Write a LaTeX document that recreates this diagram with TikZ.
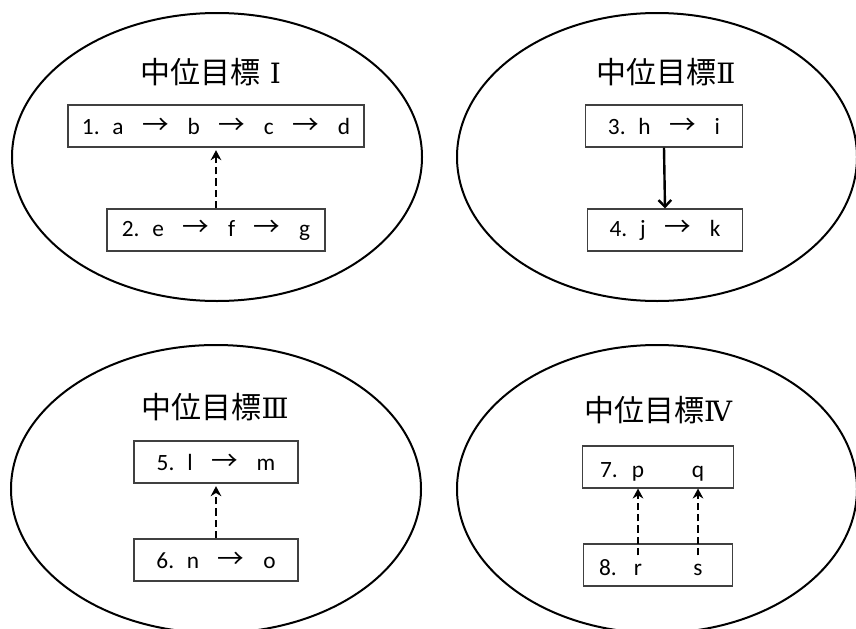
\documentclass[tikz,border=0pt]{standalone}
\usepackage{fontspec}
\setmainfont{Carlito}
\newfontfamily\cjk{Noto Sans CJK JP}
\newfontfamily\numfont{DejaVu Serif}
\usetikzlibrary{arrows.meta,shapes.geometric}

\newcommand{\rarr}{\hspace{0.8em}{\cjk\fontsize{20pt}{20pt}\selectfont →}\hspace{0.8em}}
\newcommand{\goalnum}[1]{{\numfont\fontsize{21pt}{22pt}\selectfont #1}}

\tikzset{
  goal/.style={ellipse, draw, line width=1.5pt, inner sep=0pt},
  title/.style={font=\cjk\fontsize{22.5pt}{24pt}\selectfont},
  box/.style={draw=black!75, line width=0.8pt, minimum height=31.5pt, inner sep=0pt,
    font=\fontsize{17.5pt}{20pt}\selectfont},
  word/.style={anchor=base, inner sep=0pt, font=\fontsize{17.5pt}{20pt}\selectfont},
  dasharrow/.style={line width=1.9pt, dash pattern=on 5.5pt off 3pt, -{Stealth[length=7.5pt,width=8pt]}},
  solidarrow/.style={line width=1.8pt, -{Straight Barb[length=5pt,width=9.5pt,line width=1.8pt]}}
}

\begin{document}
\begin{tikzpicture}[x=0.75pt,y=-0.75pt]
    \useasboundingbox (0,0) rectangle (856,628);
    \clip (0,0) rectangle (856,628);

    % 中位目標Ⅰ
    \node[goal, minimum width=307.5pt, minimum height=216pt] (g1) at (217,157) {};
    \node[title] (t1) at (211,72) {中位目標\hspace{0.3em}\goalnum{Ⅰ}};
    \node[box, minimum width=222pt] (b1) at (216,126) {1.\hspace{0.55em}a\rarr b\rarr c\rarr d};
    \node[box, minimum width=163.5pt] (b2) at (216,230) {2.\hspace{0.55em}e\rarr f\rarr g};
    \draw[dasharrow] (b2.north) -- ([yshift=-2pt]b1.south);

    % 中位目標Ⅱ
    \node[goal, minimum width=300pt, minimum height=216pt] (g2) at (657,157) {};
    \node[title] (t2) at (666,72) {中位目標\goalnum{Ⅱ}};
    \node[box, minimum width=118pt] (b3) at (664,126) {3.\hspace{0.55em}h\rarr i\hspace{0.5em}};
    \node[box, minimum width=116pt] (b4) at (665,230) {4.\hspace{0.55em}j\rarr k\hspace{0.5em}};
    \draw[solidarrow] (b3.south) -- (b4.north);

    % 中位目標Ⅲ
    \node[goal, minimum width=307.5pt, minimum height=216pt] (g3) at (216,489) {};
    \node[title] (t3) at (215,407) {中位目標\goalnum{Ⅲ}};
    \node[box, minimum width=123pt] (b5) at (216,462) {5.\hspace{0.55em}l\rarr m\hspace{0.6em}};
    \node[box, minimum width=123pt] (b6) at (216,560) {6.\hspace{0.55em}n\rarr o\hspace{0.6em}};
    \draw[dasharrow] (b6.north) -- ([yshift=-2pt]b5.south);

    % 中位目標Ⅳ
    \node[goal, minimum width=300pt, minimum height=216pt] (g4) at (657,489) {};
    \node[title] (t4) at (658,410) {中位目標\goalnum{Ⅳ}};
    \node[box, minimum width=113pt] (b7) at (658,467) {};
    \node[box, minimum width=112pt] (b8) at (658,565) {};
    \node[word] (n7) at (609,477) {7.};
    \node[word] (p) at (638,477) {p};
    \node[word] (q) at (698,477) {q};
    \node[word] (n8) at (608,575) {8.};
    \node[word] (r) at (638,575) {r};
    \node[word] (s) at (698,575) {s};
    \draw[dasharrow] ([yshift=6pt]r.north) -- (p |- b7.south);
    \draw[dasharrow] ([yshift=6pt]s.north) -- (q |- b7.south);
\end{tikzpicture}
\end{document}
